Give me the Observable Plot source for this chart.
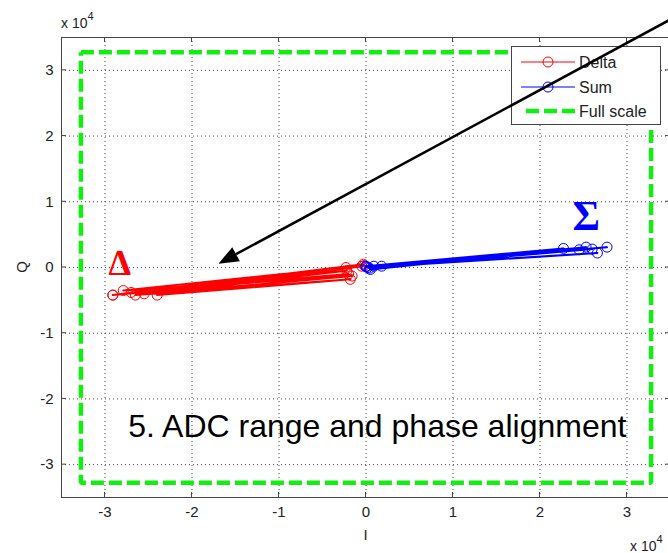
<!DOCTYPE html>
<html><head><meta charset="utf-8">
<script src="https://cdn.jsdelivr.net/npm/d3@7"></script>
<script src="https://cdn.jsdelivr.net/npm/@observablehq/plot@0.6"></script>
<style>
body{margin:0;background:#fff;}
#chart{width:668px;height:553px;overflow:hidden;}
</style>
</head><body><div id="chart"></div>
<script>
// values in units of 10^4
const xTicks = [-3, -2, -1, 0, 1, 2, 3];
const yTicks = [-3, -2, -1, 0, 1, 2, 3];
const axisDomain = [-3.5, 3.5];

const deltaI = [-0.03, -2.91, -0.23, -2.79, -0.16, -2.65, -0.18, -2.40, -0.05, -2.91, -0.20, -2.70, -0.02, -2.55, -0.22];
const deltaQ = [ 0.05, -0.42,  0.00, -0.35, -0.13, -0.42, -0.18, -0.42,  0.02, -0.42, -0.10, -0.38,  0.03, -0.40, -0.05];

const sumI = [0.00, 2.27, 0.05, 2.53, 0.18, 2.66, 0.02, 2.77, 0.09, 2.45, 0.00, 2.60, 0.04];
const sumQ = [0.02, 0.29, -0.03, 0.31, 0.02, 0.22, 0.00, 0.31, 0.02, 0.27, 0.01, 0.28, -0.01];

const fullScaleI = [-3.2768, 3.2768, 3.2768, -3.2768, -3.2768];
const fullScaleQ = [ 3.2768, 3.2768, -3.2768, -3.2768, 3.2768];

const arrowFrom = [3.9, 4.05];
const arrowTo = [-1.69, 0.05];

const seriesNames = ["Delta", "Sum", "Full scale"];
const captionText = "5. ADC range and phase alignment";

const delta = deltaI.map((v, i) => ({I: v, Q: deltaQ[i]}));
const sum = sumI.map((v, i) => ({I: v, Q: sumQ[i]}));
const fullScale = fullScaleI.map((v, i) => ({I: v, Q: fullScaleQ[i]}));

const RED = "#ff0000", BLUE = "#0000ff", GREEN = "#11ee11";
const SANS = "'Liberation Sans', Arial, sans-serif";
const fmt = d => String(d);

const chart = Plot.plot({
  width: 668, height: 553,
  marginLeft: 61, marginRight: -2, marginTop: 37, marginBottom: 56,
  style: {fontFamily: SANS, fontSize: "15px", color: "#222", background: "#fff", overflow: "visible"},
  x: {domain: axisDomain, label: null},
  y: {domain: axisDomain, label: null},
  marks: [
    Plot.gridX(xTicks, {stroke: "#444", strokeOpacity: 1, strokeDasharray: "1,3"}),
    Plot.gridY(yTicks, {stroke: "#444", strokeOpacity: 1, strokeDasharray: "1,3"}),
    Plot.line(fullScale, {x: "I", y: "Q", stroke: GREEN, strokeWidth: 4.5, strokeDasharray: "13,5", strokeLinecap: "butt", strokeLinejoin: "miter"}),
    Plot.line(delta, {x: "I", y: "Q", stroke: RED, strokeWidth: 2}),
    Plot.dot(delta, {x: "I", y: "Q", r: 5, stroke: RED, fill: "none", strokeWidth: 1}),
    Plot.line(sum, {x: "I", y: "Q", stroke: BLUE, strokeWidth: 2}),
    Plot.dot(sum, {x: "I", y: "Q", r: 5, stroke: BLUE, fill: "none", strokeWidth: 1}),
    Plot.frame({stroke: "#444", strokeWidth: 1}),
    Plot.axisX(xTicks, {anchor: "bottom", tickSize: 0, tickPadding: 9, fontSize: 15, tickFormat: fmt, label: null}),
    Plot.axisY(yTicks, {anchor: "left", tickSize: 0, tickPadding: 8, fontSize: 15, tickFormat: fmt, label: null}),
    Plot.text(["Δ"], {x: -2.83, y: 0.06, text: d => d, fill: RED, fontSize: 36, fontWeight: "bold", fontFamily: "'Liberation Serif', 'DejaVu Serif', serif"}),
    Plot.text(["Σ"], {x: 2.53, y: 0.78, text: d => d, fill: BLUE, fontSize: 42, fontWeight: "bold", fontFamily: "'Liberation Serif', 'DejaVu Serif', serif"}),
    Plot.text([captionText], {x: 0.13, y: -2.42, text: d => d, fill: "#000", fontSize: 32, fontFamily: SANS})
  ]
});
document.getElementById("chart").appendChild(chart);

(function () {
  const svg = d3.select(chart);
  const sx = chart.scale("x"), sy = chart.scale("y");
  const X = v => sx.apply(v), Y = v => sy.apply(v);
  const pxL = X(axisDomain[0]), pxR = X(axisDomain[1]), pxT = Y(axisDomain[1]), pxB = Y(axisDomain[0]);

  // inward ticks on all four sides
  const tk = svg.append("g").attr("stroke", "#444").attr("stroke-width", 1);
  xTicks.forEach(t => {
    tk.append("line").attr("x1", X(t)).attr("x2", X(t)).attr("y1", pxB).attr("y2", pxB - 5);
    tk.append("line").attr("x1", X(t)).attr("x2", X(t)).attr("y1", pxT).attr("y2", pxT + 5);
  });
  yTicks.forEach(t => {
    tk.append("line").attr("y1", Y(t)).attr("y2", Y(t)).attr("x1", pxL).attr("x2", pxL + 5);
    tk.append("line").attr("y1", Y(t)).attr("y2", Y(t)).attr("x1", pxR).attr("x2", pxR - 5);
  });

  // axis labels
  svg.append("text").attr("x", X(0)).attr("y", 540).attr("text-anchor", "middle")
    .attr("font-family", SANS).attr("font-size", 15).attr("fill", "#222").text("I");
  svg.append("text").attr("transform", `translate(27,${Y(0)}) rotate(-90)`).attr("text-anchor", "middle")
    .attr("font-family", SANS).attr("font-size", 15).attr("fill", "#222").text("Q");

  // exponent multipliers
  function mult(x, y) {
    const t = svg.append("text").attr("x", x).attr("y", y).attr("font-family", SANS)
      .attr("text-anchor", "start").attr("font-size", 14).attr("fill", "#222");
    t.append("tspan").text("x 10");
    t.append("tspan").attr("dy", -8).attr("font-size", 11).text("4");
  }
  mult(61, 28);
  mult(630, 551);

  // legend
  const g = svg.append("g").attr("font-family", SANS).attr("font-size", 16).attr("fill", "#222")
    .attr("text-anchor", "start");
  g.append("rect").attr("x", 511.5).attr("y", 46.5).attr("width", 149).attr("height", 78)
    .attr("fill", "#fff").attr("stroke", "#444").attr("stroke-width", 1);
  const rows = [
    {name: seriesNames[0], color: RED, y: 62, marker: true, w: 1, dash: null},
    {name: seriesNames[1], color: BLUE, y: 87, marker: true, w: 1, dash: null},
    {name: seriesNames[2], color: GREEN, y: 111, marker: false, w: 4.5, dash: "13,5"}
  ];
  rows.forEach(r => {
    g.append("line").attr("x1", r.marker ? 521 : 526).attr("x2", 575).attr("y1", r.y).attr("y2", r.y)
      .attr("stroke", r.color).attr("stroke-width", r.w).attr("stroke-dasharray", r.dash);
    if (r.marker) g.append("circle").attr("cx", 548).attr("cy", r.y).attr("r", 5)
      .attr("fill", "none").attr("stroke", r.color);
    g.append("text").attr("x", 579).attr("y", r.y).attr("dy", "0.36em").text(r.name);
  });

  // annotation arrow (on top of everything)
  const tx = X(arrowTo[0]), ty = Y(arrowTo[1]);
  const fx = X(arrowFrom[0]), fy = Y(arrowFrom[1]);
  const L = Math.hypot(fx - tx, fy - ty), ux = (fx - tx) / L, uy = (fy - ty) / L;
  const hl = 20, hw = 8;
  const bx = tx + ux * hl, by = ty + uy * hl;
  svg.append("line").attr("x1", fx).attr("y1", fy).attr("x2", bx).attr("y2", by)
    .attr("stroke", "#000").attr("stroke-width", 2.5);
  svg.append("path")
    .attr("d", `M${tx},${ty}L${bx - uy * hw},${by + ux * hw}L${bx + uy * hw},${by - ux * hw}Z`)
    .attr("fill", "#000");
})();
</script>
</body></html>
